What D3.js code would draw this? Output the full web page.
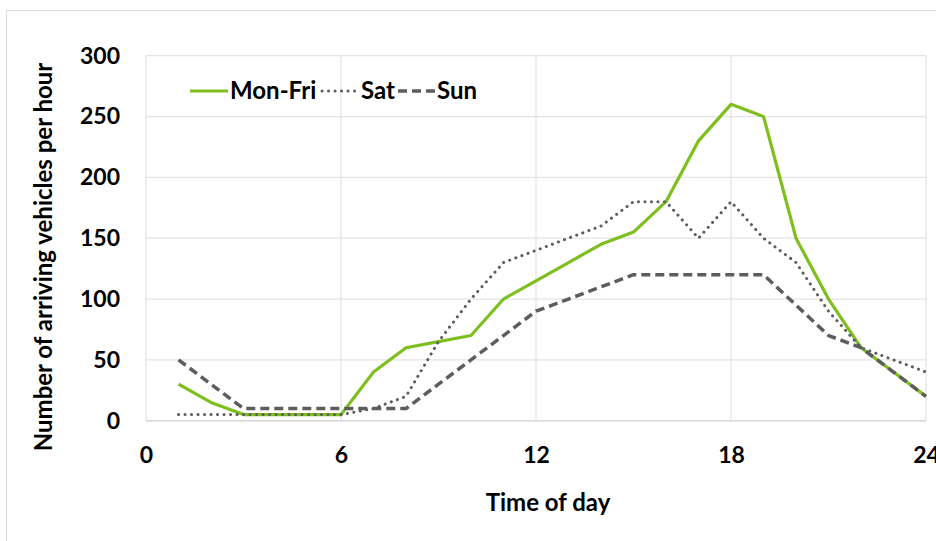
<!DOCTYPE html>
<html>
<head>
<meta charset="utf-8">
<script src="https://cdn.jsdelivr.net/npm/d3@7"></script>
<style>
  html, body { margin: 0; padding: 0; background: #fff; }
  svg { display: block; }
  text { font-family: Lato, "Open Sans", sans-serif; font-weight: bold; fill: #000; }
</style>
</head>
<body>
<svg id="chart" width="936" height="541"></svg>
<script>
const hours = [1,2,3,4,5,6,7,8,9,10,11,12,13,14,15,16,17,18,19,20,21,22,23,24];
const monFri = [30,15,5,5,5,5,40,60,65,70,100,115,130,145,155,180,230,260,250,150,100,60,40,20];
const sat    = [5,5,5,5,5,5,10,20,65,100,130,140,150,160,180,180,150,180,150,130,90,60,50,40];
const sun    = [50,30,10,10,10,10,10,10,30,50,70,90,100,110,120,120,120,120,120,95,70,60,40,20];
const xTicks = [0,6,12,18,24];
const yTicks = [0,50,100,150,200,250,300];
const seriesNames = ["Mon-Fri","Sat","Sun"];

const svg = d3.select("#chart");
const x = d3.scaleLinear().domain([0,24]).range([146, 926]);
const y = d3.scaleLinear().domain([0,300]).range([420.7, 55.7]);

// outer chart border
svg.append("rect").attr("x",6.5).attr("y",10.5).attr("width",960).attr("height",560)
  .attr("fill","none").attr("stroke","#d9d9d9").attr("stroke-width",1);

// gridlines
const grid = svg.append("g");
grid.selectAll("line.h").data(yTicks).join("line").attr("class","h")
  .attr("x1", x(0)).attr("x2", x(24)).attr("y1", d=>y(d)).attr("y2", d=>y(d))
  .attr("stroke","#e3e3e3").attr("stroke-width",1.2);
grid.selectAll("line.v").data(xTicks).join("line").attr("class","v")
  .attr("y1", y(0)).attr("y2", y(300)).attr("x1", d=>x(d)).attr("x2", d=>x(d))
  .attr("stroke","#e3e3e3").attr("stroke-width",1.2);
svg.append("line").attr("x1",x(0)).attr("x2",x(24)).attr("y1",y(0)).attr("y2",y(0))
  .attr("stroke","#d9d9d9").attr("stroke-width",1.5);

// axes with d3
const yAxis = d3.axisLeft(y).tickValues(yTicks).tickSize(0).tickPadding(26);
const gy = svg.append("g").attr("transform",`translate(${x(0)},0)`).call(yAxis);
gy.select(".domain").remove();
gy.selectAll("text").style("font-size","23px").style("font-family","Lato, sans-serif").style("font-weight","bold").attr("fill","#000");

const xAxis = d3.axisBottom(x).tickValues(xTicks).tickSize(0).tickPadding(26);
const gx = svg.append("g").attr("transform",`translate(0,${y(0)})`).call(xAxis);
gx.select(".domain").remove();
gx.selectAll("text").style("font-size","23px").style("font-family","Lato, sans-serif").style("font-weight","bold").attr("fill","#000");

// titles
svg.append("text").attr("x", 548).attr("y", 511).attr("text-anchor","middle")
  .style("font-size","24px").text("Time of day");
svg.append("text").attr("transform","translate(52,257) rotate(-90)").attr("text-anchor","middle")
  .style("font-size","24px").text("Number of arriving vehicles per hour");

// lines
const styles = [
  {data: monFri, color:"#7ebf1f", width:3.2, dash:null, cap:"butt"},
  {data: sat, color:"#5d5d5d", width:3, dash:"0.1,6.4", cap:"round"},
  {data: sun, color:"#5d5d5d", width:3.5, dash:"9,5", cap:"butt"}
];
const line = d3.line().x((d,i)=>x(hours[i])).y(d=>y(d));
styles.forEach(s => {
  svg.append("path").attr("d", line(s.data)).attr("fill","none")
    .attr("stroke", s.color).attr("stroke-width", s.width)
    .attr("stroke-dasharray", s.dash).attr("stroke-linecap", s.cap)
    .attr("stroke-linejoin","round");
});

// legend
const legend = svg.append("g");
const legItems = [
  {x1:190, x2:228, tx:230},
  {x1:322, x2:358, tx:361},
  {x1:398, x2:436, tx:437}
];
legItems.forEach((it,i) => {
  const s = styles[i];
  legend.append("line").attr("x1",it.x1).attr("x2",it.x2).attr("y1",91).attr("y2",91)
    .attr("stroke",s.color).attr("stroke-width",s.width)
    .attr("stroke-dasharray",s.dash).attr("stroke-linecap",s.cap);
  legend.append("text").attr("x",it.tx).attr("y",99).style("font-size","24px").text(seriesNames[i]);
});
</script>
</body>
</html>
